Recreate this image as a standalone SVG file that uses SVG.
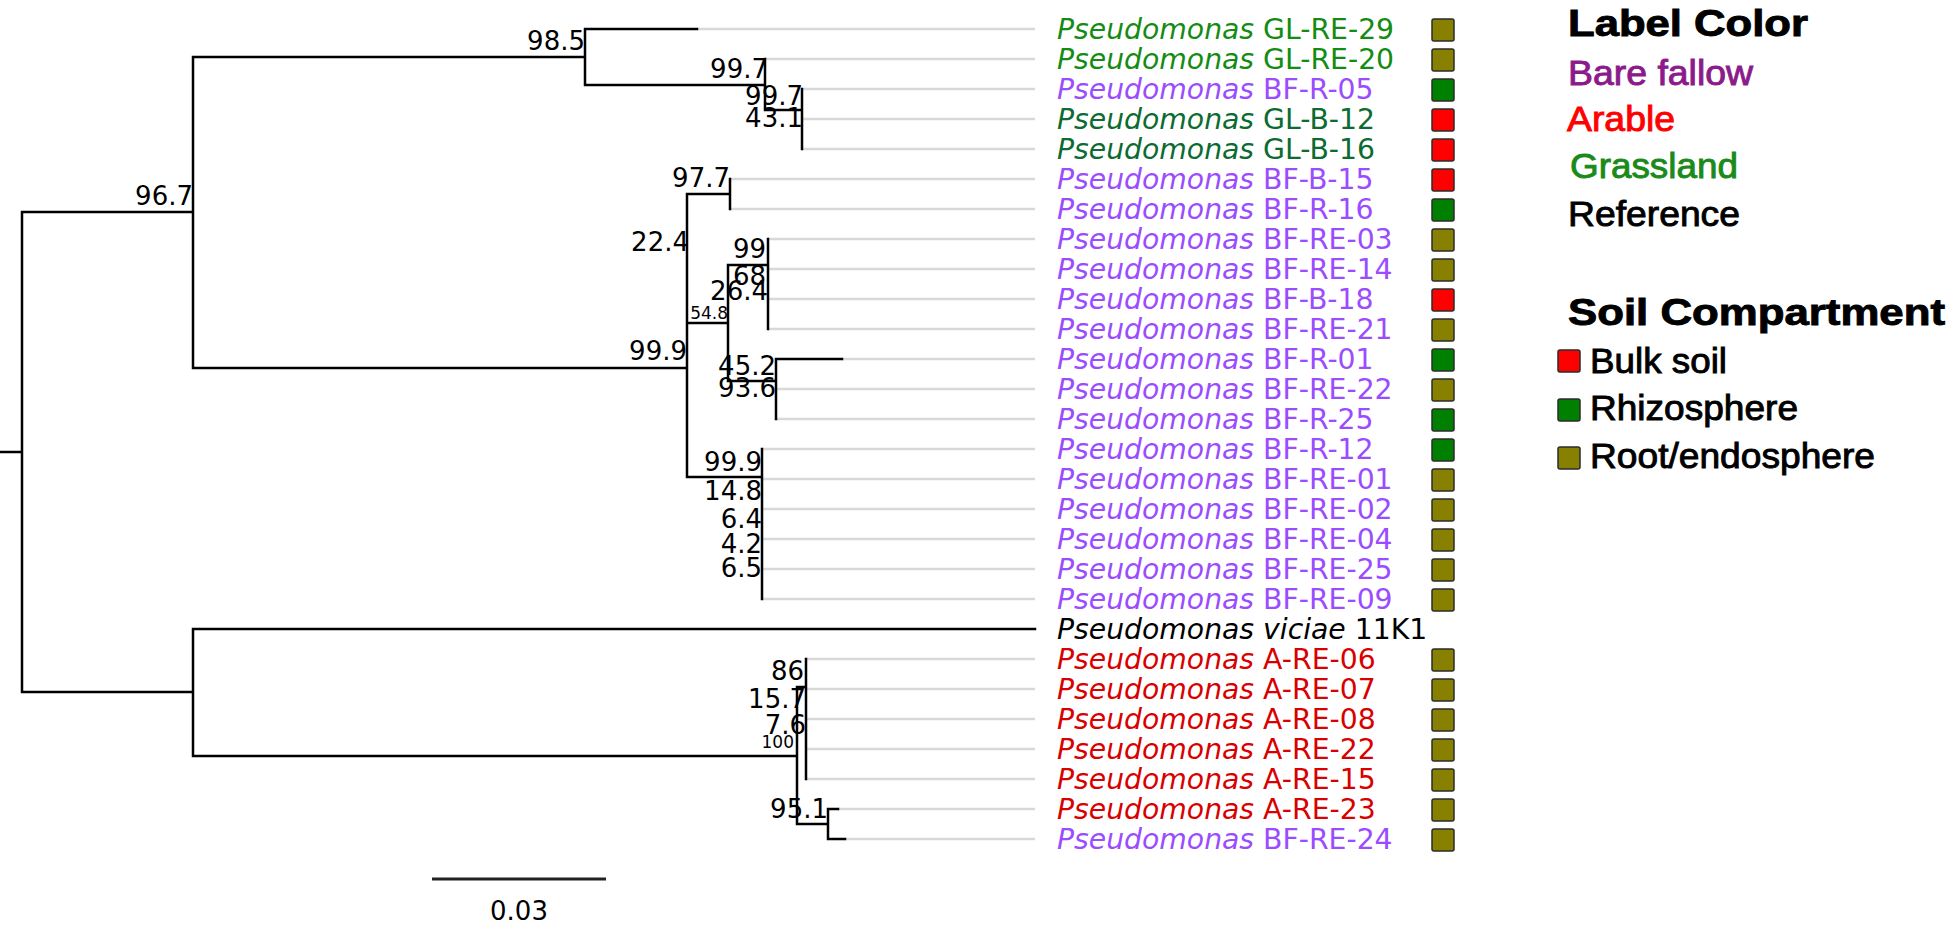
<svg xmlns="http://www.w3.org/2000/svg" width="1950" height="927" viewBox="0 0 1950 927">
<style>
.br{stroke:#000;stroke-width:2.5;fill:none;stroke-linecap:square}
.lf{stroke:#d8d8d8;stroke-width:2.5;fill:none}
.bs{font-family:"DejaVu Sans",sans-serif;font-size:26px;text-anchor:end;fill:#000}
.sm{font-size:17px}
.lab{font-family:"DejaVu Sans",sans-serif;font-size:28px}
.it{font-style:italic}
.g1{fill:#148c14}.g2{fill:#0b6b30}.pu{fill:#9b4cff}.rd{fill:#d80000}.bk{fill:#000}
.sq{stroke:#2b2b2b;stroke-width:1.5}
.ol{fill:#878000}.sg{fill:#008000}.sr{fill:#ff0000}
.lt{font-family:"Liberation Sans",Arial,sans-serif;font-weight:bold;font-size:36px;fill:#000;stroke:#000;stroke-width:0.9}
.li{font-family:"Liberation Sans",Arial,sans-serif;font-size:35px;stroke-width:0.9}
</style>
<rect width="1950" height="927" fill="#fff"/>
<g id="connectors">
<path class="lf" d="M697,29H1035M765,59H1035M802,89H1035M802,119H1035M802,149H1035M730,179H1035M730,209H1035M768,239H1035M768,269H1035M768,299H1035M768,329H1035M842,359H1035M776,389H1035M776,419H1035M762,449H1035M762,479H1035M762,509H1035M762,539H1035M762,569H1035M762,599H1035M806,659H1035M806,689H1035M806,719H1035M806,749H1035M806,779H1035M838,809H1035M845,839H1035"/>
<path class="br" d="M0,452H22M22,212V692M22,212H193M193,57V368M193,57H585M585,29V85M585,29H697M585,85H765M765,59V110M765,110H802M802,89V149M193,368H687M687,194V477M687,194H730M730,179V209M687,323H728M728,265V381M728,265H768M768,239V329M728,381H776M776,359V419M776,359H842M687,477H762M762,449V599M22,692H193M193,629V756M193,629H1035M193,756H797M797,687V824M797,687H806M806,659V779M797,824H828M828,809V839M828,809H838M828,839H845"/>
</g>
<g id="bootstrap">
<g id="n-96-7"><text class="bs" x="193" y="205">96.7</text></g>
<g id="n-98-5"><text class="bs" x="585" y="50">98.5</text></g>
<g id="n-99-7a"><text class="bs" x="768" y="78">99.7</text></g>
<g id="n-99-7b"><text class="bs" x="803" y="105">99.7</text></g>
<g id="n-43-1"><text class="bs" x="803" y="127">43.1</text></g>
<g id="n-99-9a"><text class="bs" x="687" y="360">99.9</text></g>
<g id="n-22-4"><text class="bs" x="689" y="251">22.4</text></g>
<g id="n-97-7"><text class="bs" x="730" y="187">97.7</text></g>
<g id="n-54-8"><text class="bs sm" x="728" y="319">54.8</text></g>
<g id="n-99"><text class="bs" x="766" y="258">99</text></g>
<g id="n-68"><text class="bs" x="766" y="285">68</text></g>
<g id="n-26-4"><text class="bs" x="768" y="300">26.4</text></g>
<g id="n-45-2"><text class="bs" x="776" y="375">45.2</text></g>
<g id="n-93-6"><text class="bs" x="776" y="397">93.6</text></g>
<g id="n-99-9b"><text class="bs" x="762" y="471">99.9</text></g>
<g id="n-14-8"><text class="bs" x="762" y="500">14.8</text></g>
<g id="n-6-4"><text class="bs" x="762" y="528">6.4</text></g>
<g id="n-4-2"><text class="bs" x="762" y="553">4.2</text></g>
<g id="n-6-5"><text class="bs" x="762" y="577">6.5</text></g>
<g id="n-86"><text class="bs" x="804" y="680">86</text></g>
<g id="n-15-7"><text class="bs" x="806" y="708">15.7</text></g>
<g id="n-7-6"><text class="bs" x="806" y="734">7.6</text></g>
<g id="n-100"><text class="bs sm" x="794" y="748">100</text></g>
<g id="n-95-1"><text class="bs" x="828" y="818">95.1</text></g>
</g>
<g id="squares">
<rect class="sq ol" x="1432" y="19" width="22" height="22" rx="2"/>
<rect class="sq ol" x="1432" y="49" width="22" height="22" rx="2"/>
<rect class="sq sg" x="1432" y="79" width="22" height="22" rx="2"/>
<rect class="sq sr" x="1432" y="109" width="22" height="22" rx="2"/>
<rect class="sq sr" x="1432" y="139" width="22" height="22" rx="2"/>
<rect class="sq sr" x="1432" y="169" width="22" height="22" rx="2"/>
<rect class="sq sg" x="1432" y="199" width="22" height="22" rx="2"/>
<rect class="sq ol" x="1432" y="229" width="22" height="22" rx="2"/>
<rect class="sq ol" x="1432" y="259" width="22" height="22" rx="2"/>
<rect class="sq sr" x="1432" y="289" width="22" height="22" rx="2"/>
<rect class="sq ol" x="1432" y="319" width="22" height="22" rx="2"/>
<rect class="sq sg" x="1432" y="349" width="22" height="22" rx="2"/>
<rect class="sq ol" x="1432" y="379" width="22" height="22" rx="2"/>
<rect class="sq sg" x="1432" y="409" width="22" height="22" rx="2"/>
<rect class="sq sg" x="1432" y="439" width="22" height="22" rx="2"/>
<rect class="sq ol" x="1432" y="469" width="22" height="22" rx="2"/>
<rect class="sq ol" x="1432" y="499" width="22" height="22" rx="2"/>
<rect class="sq ol" x="1432" y="529" width="22" height="22" rx="2"/>
<rect class="sq ol" x="1432" y="559" width="22" height="22" rx="2"/>
<rect class="sq ol" x="1432" y="589" width="22" height="22" rx="2"/>
<rect class="sq ol" x="1432" y="649" width="22" height="22" rx="2"/>
<rect class="sq ol" x="1432" y="679" width="22" height="22" rx="2"/>
<rect class="sq ol" x="1432" y="709" width="22" height="22" rx="2"/>
<rect class="sq ol" x="1432" y="739" width="22" height="22" rx="2"/>
<rect class="sq ol" x="1432" y="769" width="22" height="22" rx="2"/>
<rect class="sq ol" x="1432" y="799" width="22" height="22" rx="2"/>
<rect class="sq ol" x="1432" y="829" width="22" height="22" rx="2"/>
</g>
<g id="labels" class="lab" transform="translate(1057 0) scale(1.01 1)">
<g id="leaf-GL-RE-29"><text class="g1" y="39"><tspan class="it">Pseudomonas</tspan> GL-RE-29</text></g>
<g id="leaf-GL-RE-20"><text class="g1" y="69"><tspan class="it">Pseudomonas</tspan> GL-RE-20</text></g>
<g id="leaf-BF-R-05"><text class="pu" y="99"><tspan class="it">Pseudomonas</tspan> BF-R-05</text></g>
<g id="leaf-GL-B-12"><text class="g2" y="129"><tspan class="it">Pseudomonas</tspan> GL-B-12</text></g>
<g id="leaf-GL-B-16"><text class="g2" y="159"><tspan class="it">Pseudomonas</tspan> GL-B-16</text></g>
<g id="leaf-BF-B-15"><text class="pu" y="189"><tspan class="it">Pseudomonas</tspan> BF-B-15</text></g>
<g id="leaf-BF-R-16"><text class="pu" y="219"><tspan class="it">Pseudomonas</tspan> BF-R-16</text></g>
<g id="leaf-BF-RE-03"><text class="pu" y="249"><tspan class="it">Pseudomonas</tspan> BF-RE-03</text></g>
<g id="leaf-BF-RE-14"><text class="pu" y="279"><tspan class="it">Pseudomonas</tspan> BF-RE-14</text></g>
<g id="leaf-BF-B-18"><text class="pu" y="309"><tspan class="it">Pseudomonas</tspan> BF-B-18</text></g>
<g id="leaf-BF-RE-21"><text class="pu" y="339"><tspan class="it">Pseudomonas</tspan> BF-RE-21</text></g>
<g id="leaf-BF-R-01"><text class="pu" y="369"><tspan class="it">Pseudomonas</tspan> BF-R-01</text></g>
<g id="leaf-BF-RE-22"><text class="pu" y="399"><tspan class="it">Pseudomonas</tspan> BF-RE-22</text></g>
<g id="leaf-BF-R-25"><text class="pu" y="429"><tspan class="it">Pseudomonas</tspan> BF-R-25</text></g>
<g id="leaf-BF-R-12"><text class="pu" y="459"><tspan class="it">Pseudomonas</tspan> BF-R-12</text></g>
<g id="leaf-BF-RE-01"><text class="pu" y="489"><tspan class="it">Pseudomonas</tspan> BF-RE-01</text></g>
<g id="leaf-BF-RE-02"><text class="pu" y="519"><tspan class="it">Pseudomonas</tspan> BF-RE-02</text></g>
<g id="leaf-BF-RE-04"><text class="pu" y="549"><tspan class="it">Pseudomonas</tspan> BF-RE-04</text></g>
<g id="leaf-BF-RE-25"><text class="pu" y="579"><tspan class="it">Pseudomonas</tspan> BF-RE-25</text></g>
<g id="leaf-BF-RE-09"><text class="pu" y="609"><tspan class="it">Pseudomonas</tspan> BF-RE-09</text></g>
<g id="leaf-viciae"><text class="bk" y="639"><tspan class="it">Pseudomonas viciae</tspan> 11K1</text></g>
<g id="leaf-A-RE-06"><text class="rd" y="669"><tspan class="it">Pseudomonas</tspan> A-RE-06</text></g>
<g id="leaf-A-RE-07"><text class="rd" y="699"><tspan class="it">Pseudomonas</tspan> A-RE-07</text></g>
<g id="leaf-A-RE-08"><text class="rd" y="729"><tspan class="it">Pseudomonas</tspan> A-RE-08</text></g>
<g id="leaf-A-RE-22"><text class="rd" y="759"><tspan class="it">Pseudomonas</tspan> A-RE-22</text></g>
<g id="leaf-A-RE-15"><text class="rd" y="789"><tspan class="it">Pseudomonas</tspan> A-RE-15</text></g>
<g id="leaf-A-RE-23"><text class="rd" y="819"><tspan class="it">Pseudomonas</tspan> A-RE-23</text></g>
<g id="leaf-BF-RE-24"><text class="pu" y="849"><tspan class="it">Pseudomonas</tspan> BF-RE-24</text></g>
</g>
<g id="scale-bar">
<path d="M432,879H606" stroke="#222" stroke-width="3"/>
<text class="bs" x="519" y="920" style="text-anchor:middle">0.03</text>
</g>
<g id="legend-label-color">
<text class="lt" x="1568" y="36" textLength="240" lengthAdjust="spacingAndGlyphs">Label Color</text>
<text class="li" x="1568" y="85" style="fill:#8b1a8b;stroke:#8b1a8b" textLength="185" lengthAdjust="spacingAndGlyphs">Bare fallow</text>
<text class="li" x="1567" y="131" style="fill:#ff0000;stroke:#ff0000" textLength="108" lengthAdjust="spacingAndGlyphs">Arable</text>
<text class="li" x="1570" y="178" style="fill:#1a8a1a;stroke:#1a8a1a" textLength="168" lengthAdjust="spacingAndGlyphs">Grassland</text>
<text class="li" x="1568" y="226" style="fill:#000;stroke:#000" textLength="172" lengthAdjust="spacingAndGlyphs">Reference</text>
</g>
<g id="legend-soil">
<text class="lt" x="1568" y="325" textLength="377" lengthAdjust="spacingAndGlyphs">Soil Compartment</text>
<rect class="sq sr" x="1558" y="350" width="22" height="22" rx="2"/>
<text class="li" x="1590" y="373" style="fill:#000;stroke:#000" textLength="137" lengthAdjust="spacingAndGlyphs">Bulk soil</text>
<rect class="sq sg" x="1558" y="399" width="22" height="22" rx="2"/>
<text class="li" x="1590" y="420" style="fill:#000;stroke:#000" textLength="208" lengthAdjust="spacingAndGlyphs">Rhizosphere</text>
<rect class="sq ol" x="1558" y="447" width="22" height="22" rx="2"/>
<text class="li" x="1590" y="468" style="fill:#000;stroke:#000" textLength="285" lengthAdjust="spacingAndGlyphs">Root/endosphere</text>
</g>
</svg>
